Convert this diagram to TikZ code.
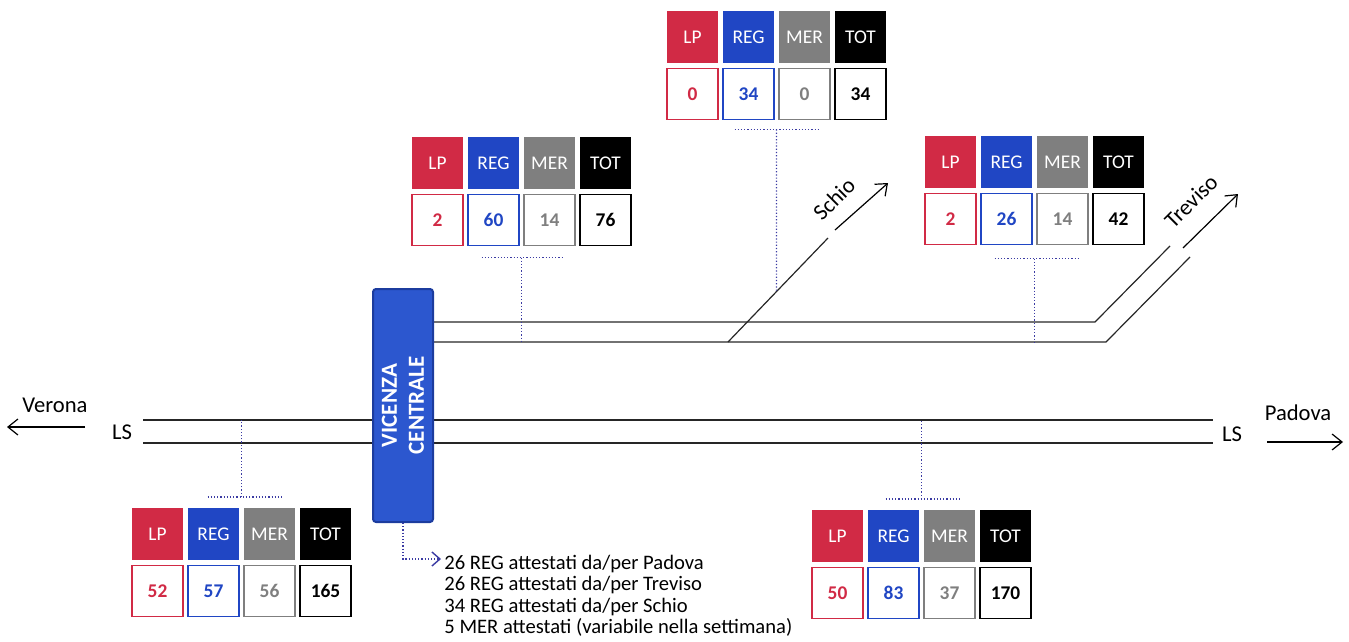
\documentclass[tikz,border=0pt]{standalone}
\usepackage{fontspec}
\setmainfont{Carlito}
\usetikzlibrary{arrows.meta, positioning, calc}
\definecolor{lpRed}{HTML}{D12A45}
\definecolor{regBlue}{HTML}{2046C4}
\definecolor{merGray}{HTML}{7F7F7F}
\definecolor{totBlack}{HTML}{000000}
\definecolor{stationBlue}{HTML}{2C57CF}
\definecolor{stationEdge}{HTML}{1C3C9E}
\definecolor{tickBlue}{HTML}{3B3BA3}

% counter table: name, top-left corner, LP, REG, MER, TOT
\newcommand{\traintable}[6]{%
  \node[headcell, fill=lpRed, anchor=north west] (#1lp) at (#2) {LP};
  \node[headcell, fill=regBlue, right=2.5pt of #1lp]  (#1reg) {REG};
  \node[headcell, fill=merGray, right=2.5pt of #1reg] (#1mer) {MER};
  \node[headcell, fill=totBlack, right=2.5pt of #1mer] (#1tot) {TOT};
  \node[valcell, draw=lpRed, text=lpRed, below=2.75pt of #1lp]       (#1lpv)  {#3};
  \node[valcell, draw=regBlue, text=regBlue, below=2.75pt of #1reg]  (#1regv) {#4};
  \node[valcell, draw=merGray, text=merGray, below=2.75pt of #1mer]  (#1merv) {#5};
  \node[valcell, draw=totBlack, text=totBlack, below=2.75pt of #1tot] (#1totv) {#6};
  \coordinate (#1top) at ($(#1reg.north east)!0.5!(#1mer.north west)$);
  \coordinate (#1bot) at ($(#1regv.south east)!0.5!(#1merv.south west)$);
}

\begin{document}
\begin{tikzpicture}[x=0.5pt, y=-0.5pt,
  headcell/.style={minimum width=25.5pt, minimum height=26pt, inner sep=0pt,
                   outer sep=0pt, text=white, font=\fontsize{9.7}{11}\selectfont},
  valcell/.style={minimum width=25.5pt, minimum height=25.5pt, inner sep=0pt,
                  outer sep=0pt, fill=white, line width=0.7pt,
                  font=\fontsize{9.7}{11}\selectfont\bfseries},
  station/.style={fill=stationBlue, draw=stationEdge, line width=1pt,
                  rounded corners=1.5pt, minimum width=116.5pt, minimum height=30pt,
                  inner sep=0pt, text=white, align=center,
                  font=\fontsize{11.5}{13.5}\selectfont\bfseries},
  place/.style={inner sep=0pt, font=\fontsize{11.3}{13}\selectfont},
  note/.style={inner sep=0pt, align=left, font=\fontsize{10.3}{10.6}\selectfont},
  track/.style={line width=0.6pt, draw=black!85},
  dir/.style={line width=0.6pt, -{Straight Barb[length=5pt, width=8pt]}},
  tick/.style={densely dotted, line width=0.6pt, draw=tickBlue}]

  \useasboundingbox (0,0) rectangle (1349,642);

  %% ═══════════════════════════════════════════════════════════════
  %% TRACKS
  %% ═══════════════════════════════════════════════════════════════

  \coordinate (mainWu) at (143,420);  \coordinate (mainEu) at (1213,420);
  \coordinate (mainWl) at (143,443);  \coordinate (mainEl) at (1213,443);
  \coordinate (brUp)   at (433,322);  \coordinate (brLow)  at (433,342);
  \coordinate (schA)   at (728,342);  \coordinate (schB)   at (828,238);

  \draw[track] (mainWu) -- (mainEu);
  \draw[track] (mainWl) -- (mainEl);
  \draw[track] (brUp) -- (1095,322) -- (1170,246);
  \draw[track] (brLow) -- (1106,342) -- (1190,257);
  \draw[track] (schA) -- (schB);

  %% ═══════════════════════════════════════════════════════════════
  %% STATION (rotated: west = bottom)
  %% ═══════════════════════════════════════════════════════════════

  \node[station, rotate=90] (vc) at (403,405.5) {VICENZA\\CENTRALE};

  %% ═══════════════════════════════════════════════════════════════
  %% DIRECTIONS
  %% ═══════════════════════════════════════════════════════════════

  \node[place] (verona) at (55,405) {Verona};
  \node[place] (lsW) at (122,432) {LS};
  \node[place] (lsE) at (1232,434) {LS};
  \node[place] (padova) at (1298,413) {Padova};
  \node[place, rotate=45] (schio) at (834,199) {Schio};
  \node[place, rotate=45] (treviso) at (1191,201) {Treviso};

  \coordinate (vrnFrom) at (85,427);   \coordinate (vrnTo) at (7,427);
  \coordinate (pdvFrom) at (1267,442); \coordinate (pdvTo) at (1343,442);
  \coordinate (schFrom) at (835,230);  \coordinate (schTo) at (888,183);
  \coordinate (tvsFrom) at (1183,248); \coordinate (tvsTo) at (1238,194);

  \draw[dir] (vrnFrom) -- (vrnTo);
  \draw[dir] (pdvFrom) -- (pdvTo);
  \draw[dir] (schFrom) -- (schTo);
  \draw[dir] (tvsFrom) -- (tvsTo);

  %% ═══════════════════════════════════════════════════════════════
  %% COUNTER TABLES
  %% ═══════════════════════════════════════════════════════════════

  \traintable{sch}{667,11}{0}{34}{0}{34}
  \traintable{vcn}{412,137}{2}{60}{14}{76}
  \traintable{tvs}{925,136}{2}{26}{14}{42}
  \traintable{vrn}{132,508}{52}{57}{56}{165}
  \traintable{pdv}{812,510}{50}{83}{37}{170}

  \coordinate (schTap) at (intersection of schtop--schbot and schA--schB);

  \draw[tick] ([xshift=-21pt, yshift=-5pt]schbot) -- ([xshift=21pt, yshift=-5pt]schbot);
  \draw[tick] ([yshift=-5pt]schbot) -- (schTap);
  \draw[tick] ([xshift=-20pt, yshift=-6pt]vcnbot) -- ([xshift=21pt, yshift=-6pt]vcnbot);
  \draw[tick] ([yshift=-6pt]vcnbot) -- (vcnbot |- brLow);
  \draw[tick] ([xshift=-20pt, yshift=-7pt]tvsbot) -- ([xshift=22pt, yshift=-7pt]tvsbot);
  \draw[tick] ([yshift=-7pt]tvsbot) -- (tvsbot |- brLow);
  \draw[tick] ([xshift=-17pt, yshift=5.5pt]vrntop) -- ([xshift=20pt, yshift=5.5pt]vrntop);
  \draw[tick] ([yshift=5.5pt]vrntop) -- (vrntop |- mainWu);
  \draw[tick] ([xshift=-18pt, yshift=5.5pt]pdvtop) -- ([xshift=19pt, yshift=5.5pt]pdvtop);
  \draw[tick] ([yshift=5.5pt]pdvtop) -- (pdvtop |- mainWu);

  %% ═══════════════════════════════════════════════════════════════
  %% TERMINATING TRAINS
  %% ═══════════════════════════════════════════════════════════════

  \node[note, anchor=north west] (notes) at (444,555)
      {26 REG attestati da/per Padova\\26 REG attestati da/per Treviso\\
       34 REG attestati da/per Schio\\5 MER attestati (variabile nella settimana)};
  \coordinate (noteIn) at (441,559);

  \draw[tick, -{Straight Barb[length=4pt, width=7pt, line width=0.7pt]}] (vc.west) |- (noteIn);

\end{tikzpicture}
\end{document}
